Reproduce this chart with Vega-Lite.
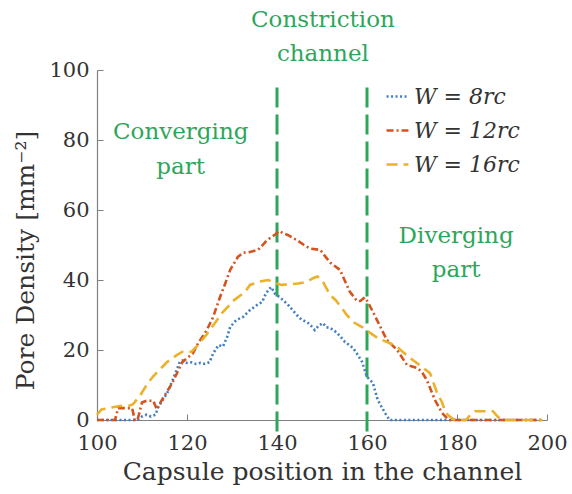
{
  "$schema": "https://vega.github.io/schema/vega-lite/v6.json",
  "width": 450,
  "height": 350,
  "autosize": "none",
  "padding": {"left": 97, "top": 70, "right": 25, "bottom": 74},
  "background": "white",
  "config": {
    "view": {"stroke": null},
    "font": "DejaVu Serif",
    "axis": {
      "grid": false,
      "domainColor": "#808080",
      "domainWidth": 1.2,
      "tickColor": "#808080",
      "tickSize": -6,
      "labelFont": "DejaVu Serif",
      "labelFontSize": 21,
      "labelColor": "#333333",
      "titleFont": "DejaVu Serif",
      "titleFontSize": 25,
      "titleFontWeight": "normal",
      "titleColor": "#333333"
    }
  },
  "datasets": {
    "pores": [
      {"series": "W = 8rc", "pos": 100, "density": 0},
      {"series": "W = 8rc", "pos": 104, "density": 0},
      {"series": "W = 8rc", "pos": 108, "density": 0},
      {"series": "W = 8rc", "pos": 109, "density": 0},
      {"series": "W = 8rc", "pos": 110, "density": 1},
      {"series": "W = 8rc", "pos": 111, "density": 1.5},
      {"series": "W = 8rc", "pos": 112, "density": 1},
      {"series": "W = 8rc", "pos": 113, "density": 1.5},
      {"series": "W = 8rc", "pos": 113.6, "density": 3.7},
      {"series": "W = 8rc", "pos": 114.5, "density": 5.5},
      {"series": "W = 8rc", "pos": 115.6, "density": 7.7},
      {"series": "W = 8rc", "pos": 117, "density": 12},
      {"series": "W = 8rc", "pos": 118.4, "density": 16.6},
      {"series": "W = 8rc", "pos": 119, "density": 17},
      {"series": "W = 8rc", "pos": 120, "density": 16.3},
      {"series": "W = 8rc", "pos": 121, "density": 16.5},
      {"series": "W = 8rc", "pos": 122, "density": 16},
      {"series": "W = 8rc", "pos": 123, "density": 16.3},
      {"series": "W = 8rc", "pos": 124, "density": 16},
      {"series": "W = 8rc", "pos": 125, "density": 16.5},
      {"series": "W = 8rc", "pos": 125.8, "density": 19},
      {"series": "W = 8rc", "pos": 127, "density": 21.4},
      {"series": "W = 8rc", "pos": 128, "density": 21},
      {"series": "W = 8rc", "pos": 129, "density": 24},
      {"series": "W = 8rc", "pos": 129.6, "density": 26.6},
      {"series": "W = 8rc", "pos": 131, "density": 28.6},
      {"series": "W = 8rc", "pos": 132.4, "density": 29.4},
      {"series": "W = 8rc", "pos": 134, "density": 31.4},
      {"series": "W = 8rc", "pos": 135.6, "density": 32.9},
      {"series": "W = 8rc", "pos": 136.7, "density": 33.7},
      {"series": "W = 8rc", "pos": 137.3, "density": 35.5},
      {"series": "W = 8rc", "pos": 138, "density": 37},
      {"series": "W = 8rc", "pos": 138.7, "density": 38},
      {"series": "W = 8rc", "pos": 139.6, "density": 36},
      {"series": "W = 8rc", "pos": 140.7, "density": 35},
      {"series": "W = 8rc", "pos": 142.4, "density": 33},
      {"series": "W = 8rc", "pos": 144.4, "density": 30},
      {"series": "W = 8rc", "pos": 145.5, "density": 28.6},
      {"series": "W = 8rc", "pos": 146.7, "density": 28},
      {"series": "W = 8rc", "pos": 147.5, "density": 27},
      {"series": "W = 8rc", "pos": 148.4, "density": 25.7},
      {"series": "W = 8rc", "pos": 149.3, "density": 27},
      {"series": "W = 8rc", "pos": 150.2, "density": 27.7},
      {"series": "W = 8rc", "pos": 151, "density": 26.5},
      {"series": "W = 8rc", "pos": 151.8, "density": 26.3},
      {"series": "W = 8rc", "pos": 153.3, "density": 25},
      {"series": "W = 8rc", "pos": 155.1, "density": 22.3},
      {"series": "W = 8rc", "pos": 156.9, "density": 20.6},
      {"series": "W = 8rc", "pos": 158, "density": 18.5},
      {"series": "W = 8rc", "pos": 158.9, "density": 16.6},
      {"series": "W = 8rc", "pos": 160, "density": 12.3},
      {"series": "W = 8rc", "pos": 161.3, "density": 10.6},
      {"series": "W = 8rc", "pos": 162.4, "density": 5.7},
      {"series": "W = 8rc", "pos": 164, "density": 2},
      {"series": "W = 8rc", "pos": 165, "density": 0},
      {"series": "W = 8rc", "pos": 170, "density": 0},
      {"series": "W = 8rc", "pos": 180, "density": 0},
      {"series": "W = 8rc", "pos": 190, "density": 0},
      {"series": "W = 8rc", "pos": 199, "density": 0},

      {"series": "W = 12rc", "pos": 100, "density": 0},
      {"series": "W = 12rc", "pos": 104, "density": 0},
      {"series": "W = 12rc", "pos": 104.7, "density": 3.4},
      {"series": "W = 12rc", "pos": 106, "density": 3.4},
      {"series": "W = 12rc", "pos": 107.8, "density": 3.4},
      {"series": "W = 12rc", "pos": 108.4, "density": 0},
      {"series": "W = 12rc", "pos": 109, "density": 0},
      {"series": "W = 12rc", "pos": 110, "density": 5},
      {"series": "W = 12rc", "pos": 111, "density": 5.5},
      {"series": "W = 12rc", "pos": 112.5, "density": 5.5},
      {"series": "W = 12rc", "pos": 113.3, "density": 3},
      {"series": "W = 12rc", "pos": 114.4, "density": 5.7},
      {"series": "W = 12rc", "pos": 116.7, "density": 10.5},
      {"series": "W = 12rc", "pos": 118, "density": 14},
      {"series": "W = 12rc", "pos": 119, "density": 16.6},
      {"series": "W = 12rc", "pos": 121.3, "density": 19},
      {"series": "W = 12rc", "pos": 122.5, "density": 22},
      {"series": "W = 12rc", "pos": 124.4, "density": 25.7},
      {"series": "W = 12rc", "pos": 125.8, "density": 29.4},
      {"series": "W = 12rc", "pos": 127.3, "density": 35},
      {"series": "W = 12rc", "pos": 128.5, "density": 39},
      {"series": "W = 12rc", "pos": 129.6, "density": 42.9},
      {"series": "W = 12rc", "pos": 131.3, "density": 46.6},
      {"series": "W = 12rc", "pos": 132.5, "density": 47.8},
      {"series": "W = 12rc", "pos": 134, "density": 48},
      {"series": "W = 12rc", "pos": 135.8, "density": 48.6},
      {"series": "W = 12rc", "pos": 137.8, "density": 51.4},
      {"series": "W = 12rc", "pos": 139.6, "density": 53},
      {"series": "W = 12rc", "pos": 140.5, "density": 54},
      {"series": "W = 12rc", "pos": 141.3, "density": 53.4},
      {"series": "W = 12rc", "pos": 142.5, "density": 52.8},
      {"series": "W = 12rc", "pos": 144.4, "density": 51.4},
      {"series": "W = 12rc", "pos": 146, "density": 50},
      {"series": "W = 12rc", "pos": 147.3, "density": 49},
      {"series": "W = 12rc", "pos": 149.6, "density": 48.6},
      {"series": "W = 12rc", "pos": 151.8, "density": 45},
      {"series": "W = 12rc", "pos": 154, "density": 42.9},
      {"series": "W = 12rc", "pos": 155, "density": 40},
      {"series": "W = 12rc", "pos": 156.2, "density": 36.6},
      {"series": "W = 12rc", "pos": 157.8, "density": 34},
      {"series": "W = 12rc", "pos": 158.5, "density": 34},
      {"series": "W = 12rc", "pos": 159.5, "density": 35},
      {"series": "W = 12rc", "pos": 160.2, "density": 33.7},
      {"series": "W = 12rc", "pos": 162.2, "density": 28.6},
      {"series": "W = 12rc", "pos": 164.4, "density": 22.9},
      {"series": "W = 12rc", "pos": 166.7, "density": 20},
      {"series": "W = 12rc", "pos": 168.9, "density": 15.7},
      {"series": "W = 12rc", "pos": 171.3, "density": 14.8},
      {"series": "W = 12rc", "pos": 172.3, "density": 13.5},
      {"series": "W = 12rc", "pos": 173.3, "density": 11.4},
      {"series": "W = 12rc", "pos": 175.1, "density": 5.7},
      {"series": "W = 12rc", "pos": 176.7, "density": 2},
      {"series": "W = 12rc", "pos": 177.8, "density": 0.5},
      {"series": "W = 12rc", "pos": 178.5, "density": 0},
      {"series": "W = 12rc", "pos": 185, "density": 0},
      {"series": "W = 12rc", "pos": 190, "density": 0},
      {"series": "W = 12rc", "pos": 199, "density": 0},

      {"series": "W = 16rc", "pos": 100, "density": 1.5},
      {"series": "W = 16rc", "pos": 101, "density": 3},
      {"series": "W = 16rc", "pos": 103, "density": 3.5},
      {"series": "W = 16rc", "pos": 105, "density": 4},
      {"series": "W = 16rc", "pos": 107, "density": 4},
      {"series": "W = 16rc", "pos": 108, "density": 4.5},
      {"series": "W = 16rc", "pos": 109.6, "density": 7},
      {"series": "W = 16rc", "pos": 111, "density": 10},
      {"series": "W = 16rc", "pos": 112.5, "density": 12.5},
      {"series": "W = 16rc", "pos": 114.4, "density": 15},
      {"series": "W = 16rc", "pos": 115.5, "density": 16.5},
      {"series": "W = 16rc", "pos": 117.8, "density": 18.6},
      {"series": "W = 16rc", "pos": 119, "density": 19.5},
      {"series": "W = 16rc", "pos": 120, "density": 19.4},
      {"series": "W = 16rc", "pos": 121, "density": 19.5},
      {"series": "W = 16rc", "pos": 122.5, "density": 21.5},
      {"series": "W = 16rc", "pos": 124.4, "density": 24.5},
      {"series": "W = 16rc", "pos": 125.5, "density": 26.5},
      {"series": "W = 16rc", "pos": 126.7, "density": 28.6},
      {"series": "W = 16rc", "pos": 127.8, "density": 30.6},
      {"series": "W = 16rc", "pos": 129.6, "density": 33},
      {"series": "W = 16rc", "pos": 130.2, "density": 34},
      {"series": "W = 16rc", "pos": 132.9, "density": 36.6},
      {"series": "W = 16rc", "pos": 134, "density": 38.6},
      {"series": "W = 16rc", "pos": 136, "density": 39.5},
      {"series": "W = 16rc", "pos": 138, "density": 40},
      {"series": "W = 16rc", "pos": 139, "density": 39.5},
      {"series": "W = 16rc", "pos": 140, "density": 39},
      {"series": "W = 16rc", "pos": 141, "density": 38.6},
      {"series": "W = 16rc", "pos": 142, "density": 38.7},
      {"series": "W = 16rc", "pos": 144.7, "density": 39},
      {"series": "W = 16rc", "pos": 146.7, "density": 39.5},
      {"series": "W = 16rc", "pos": 148, "density": 40.5},
      {"series": "W = 16rc", "pos": 149, "density": 41},
      {"series": "W = 16rc", "pos": 150, "density": 40},
      {"series": "W = 16rc", "pos": 151.8, "density": 35.7},
      {"series": "W = 16rc", "pos": 153, "density": 34.3},
      {"series": "W = 16rc", "pos": 154.4, "density": 32},
      {"series": "W = 16rc", "pos": 155.5, "density": 30},
      {"series": "W = 16rc", "pos": 157.3, "density": 27.7},
      {"series": "W = 16rc", "pos": 159, "density": 26.5},
      {"series": "W = 16rc", "pos": 160.7, "density": 24.9},
      {"series": "W = 16rc", "pos": 162.4, "density": 23.4},
      {"series": "W = 16rc", "pos": 165, "density": 22},
      {"series": "W = 16rc", "pos": 166.7, "density": 20.9},
      {"series": "W = 16rc", "pos": 168, "density": 19.4},
      {"series": "W = 16rc", "pos": 169.6, "density": 17.7},
      {"series": "W = 16rc", "pos": 172.4, "density": 15},
      {"series": "W = 16rc", "pos": 174, "density": 13.4},
      {"series": "W = 16rc", "pos": 175.5, "density": 8},
      {"series": "W = 16rc", "pos": 176.7, "density": 5},
      {"series": "W = 16rc", "pos": 177.5, "density": 2},
      {"series": "W = 16rc", "pos": 178.4, "density": 1},
      {"series": "W = 16rc", "pos": 179.5, "density": 0},
      {"series": "W = 16rc", "pos": 182, "density": 0},
      {"series": "W = 16rc", "pos": 183, "density": 1.5},
      {"series": "W = 16rc", "pos": 184, "density": 2.5},
      {"series": "W = 16rc", "pos": 186, "density": 2.5},
      {"series": "W = 16rc", "pos": 188, "density": 2.5},
      {"series": "W = 16rc", "pos": 189, "density": 1},
      {"series": "W = 16rc", "pos": 190, "density": 0},
      {"series": "W = 16rc", "pos": 195, "density": 0},
      {"series": "W = 16rc", "pos": 199, "density": 0}
    ],
    "boundaries": [
      {"pos": 140, "top": 95, "bottom": -3.5},
      {"pos": 160, "top": 95, "bottom": -3.5}
    ],
    "zones": [
      {"pos": 150.2, "level": 112.4, "label": "Constriction"},
      {"pos": 150.2, "level": 102.6, "label": "channel"},
      {"pos": 118.6, "level": 80.3, "label": "Converging"},
      {"pos": 118.6, "level": 70.3, "label": "part"},
      {"pos": 179.8, "level": 50.6, "label": "Diverging"},
      {"pos": 179.8, "level": 40.9, "label": "part"}
    ]
  },
  "layer": [
    {
      "data": {"name": "boundaries"},
      "mark": {"type": "rule", "color": "#2ea65a", "strokeWidth": 3, "strokeDash": [20, 7], "clip": false},
      "encoding": {
        "x": {"field": "pos", "type": "quantitative", "scale": {"domain": [100, 200], "nice": false}},
        "y": {"field": "top", "type": "quantitative", "scale": {"domain": [0, 100], "nice": false}},
        "y2": {"field": "bottom"}
      }
    },
    {
      "data": {"name": "pores"},
      "mark": {"type": "line", "strokeWidth": 2.6, "interpolate": "linear"},
      "encoding": {
        "x": {
          "field": "pos", "type": "quantitative",
          "scale": {"domain": [100, 200], "nice": false},
          "axis": {"title": "Capsule position in the channel", "values": [100, 120, 140, 160, 180, 200], "labelPadding": 18, "titlePadding": 6, "labelFlush": false}
        },
        "y": {
          "field": "density", "type": "quantitative",
          "scale": {"domain": [0, 100], "nice": false},
          "axis": {"title": "Pore Density [mm⁻²]", "values": [0, 20, 40, 60, 80, 100], "labelPadding": 14, "titlePadding": 10, "titleY": 190, "labelFlush": false}
        },
        "color": {
          "field": "series", "type": "nominal",
          "scale": {"domain": ["W = 8rc", "W = 12rc", "W = 16rc"], "range": ["#3f7ec4", "#d4541f", "#ecb12a"]},
          "legend": {
            "title": null, "orient": "none", "legendX": 288, "legendY": 14,
            "symbolType": "stroke", "symbolSize": 480, "symbolStrokeWidth": 2.6,
            "labelFont": "DejaVu Serif", "labelFontSize": 22, "labelFontStyle": "italic",
            "labelColor": "#333333", "rowPadding": 10, "labelOffset": 4
          }
        },
        "strokeDash": {
          "field": "series", "type": "nominal",
          "scale": {"domain": ["W = 8rc", "W = 12rc", "W = 16rc"], "range": [[2, 2.5], [7, 3, 2, 3], [11, 6]]},
          "legend": null
        }
      }
    },
    {
      "data": {"name": "zones"},
      "mark": {"type": "text", "color": "#2ea65a", "font": "DejaVu Serif", "fontSize": 23, "align": "center", "baseline": "alphabetic", "clip": false},
      "encoding": {
        "x": {"field": "pos", "type": "quantitative"},
        "y": {"field": "level", "type": "quantitative"},
        "text": {"field": "label"}
      }
    }
  ]
}
